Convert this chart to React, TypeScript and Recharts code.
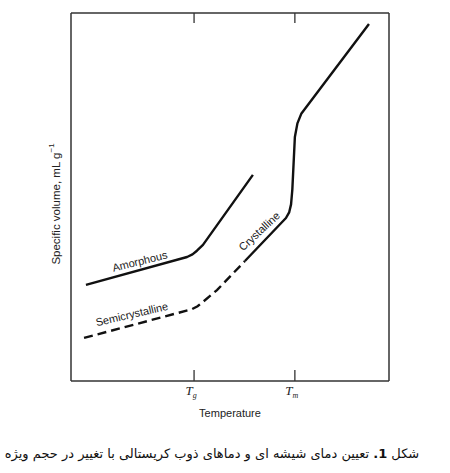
import { LineChart, Line, XAxis, YAxis, ReferenceDot } from 'recharts'

// temperature (arbitrary units, 0-100) and specific volume (arbitrary units, 0-100)
const amorphousT = [4.7, 36.5, 38.2, 39.6, 41.5, 57.2]
const amorphousV = [26.1, 33.7, 34.4, 35.4, 37.0, 56.0]

const semiT = [4.1, 38.0, 39.8, 41.5, 45.9, 54.7]
const semiV = [11.7, 19.5, 20.3, 21.5, 24.7, 32.6]

const crystT = [54.7, 67.6, 68.6, 69.2, 69.6, 70.4, 71.2, 72.4, 93.7]
const crystV = [32.6, 44.3, 45.8, 48.0, 52.0, 66.3, 70.0, 72.6, 97.0]

const xTicks = [38.7, 70.4]
const xTickSubs = ['g', 'm']

const curveLabels = [
  { text: 'Amorphous', t: 21.7, v: 32.3, angle: -14 },
  { text: 'Semicrystalline', t: 19.2, v: 17.9, angle: -13 },
  { text: 'Crystalline', t: 59.4, v: 40.5, angle: -43 },
]

const toPoints = (ts: number[], vs: number[]) => ts.map((t, i) => ({ t, v: vs[i] }))

const amorphous = toPoints(amorphousT, amorphousV)
const semi = toPoints(semiT, semiV)
const cryst = toPoints(crystT, crystV)

const AXIS = '#333'
const INK = '#111'
const SANS = '"Liberation Sans", Arial, sans-serif'

const W = 450
const H = 473
const MARGIN = { top: 12, right: 60, bottom: 62, left: 70 }
const X_AXIS_H = 30
const TOP_AXIS_H = 1
const PLOT_TOP = MARGIN.top + TOP_AXIS_H
const PLOT_LEFT = MARGIN.left + 1
const PLOT_W = W - MARGIN.left - MARGIN.right - 2

function BottomTick({ x, y, index }: any) {
  return (
    <g>
      <line x1={x} y1={y} x2={x} y2={y - 11} stroke={AXIS} strokeWidth={1.3} />
      <text
        x={x - 3}
        y={y + 14}
        textAnchor="middle"
        fontFamily='"Liberation Serif", serif'
        fontStyle="italic"
        fontSize={13}
        fill="#222"
      >
        T
        <tspan fontSize={8} dy={3}>
          {xTickSubs[index]}
        </tspan>
      </text>
    </g>
  )
}

function CurveLabel({ viewBox, caption, rot }: any) {
  const cx = viewBox.x
  const cy = viewBox.y
  return (
    <text
      x={cx}
      y={cy}
      textAnchor="middle"
      dominantBaseline="middle"
      transform={`rotate(${rot}, ${cx}, ${cy})`}
      fontFamily={SANS}
      fontSize={11}
      fill="#222"
    >
      {caption}
    </text>
  )
}

// y-axis title, plus the inward tick marks on the top frame edge
function YLabel() {
  return (
    <g>
      {xTicks.map((t) => {
        const x = PLOT_LEFT + (t / 100) * PLOT_W
        return (
          <line
            key={t}
            x1={x}
            y1={PLOT_TOP}
            x2={x}
            y2={PLOT_TOP + 10}
            stroke={AXIS}
            strokeWidth={1.3}
          />
        )
      })}
      <text
        x={57}
        y={204}
        textAnchor="middle"
        dominantBaseline="middle"
        transform="rotate(-90, 57, 204)"
        fontFamily={SANS}
        fontSize={11.5}
        fill="#222"
      >
        Specific volume, mL g
        <tspan fontSize={8} dy={-5}>
          −1
        </tspan>
      </text>
    </g>
  )
}

export default function App() {
  return (
    <div style={{ position: 'absolute', left: 0, top: 0, width: W, height: H, background: '#fff' }}>
      <LineChart width={W} height={H} margin={MARGIN}>
        <XAxis
          dataKey="t"
          type="number"
          domain={[0, 100]}
          ticks={xTicks}
          height={X_AXIS_H}
          tickSize={0}
          tickMargin={0}
          tickLine={false}
          axisLine={{ stroke: AXIS, strokeWidth: 1.5 }}
          tick={<BottomTick />}
          label={{
            value: 'Temperature',
            position: 'bottom',
            offset: -2,
            fontFamily: SANS,
            fontSize: 11,
            fill: '#222',
          }}
        />
        <XAxis
          xAxisId="top"
          dataKey="t"
          type="number"
          orientation="top"
          domain={[0, 100]}
          height={TOP_AXIS_H}
          tick={false}
          tickLine={false}
          axisLine={{ stroke: AXIS, strokeWidth: 1.5 }}
        />
        <YAxis
          type="number"
          domain={[0, 100]}
          width={1}
          tick={false}
          tickLine={false}
          axisLine={{ stroke: AXIS, strokeWidth: 1.5 }}
          label={<YLabel />}
        />
        <YAxis
          yAxisId="right"
          orientation="right"
          type="number"
          domain={[0, 100]}
          width={1}
          tick={false}
          tickLine={false}
          axisLine={{ stroke: AXIS, strokeWidth: 1.5 }}
        />
        <Line
          data={amorphous}
          dataKey="v"
          type="linear"
          stroke={INK}
          strokeWidth={2.4}
          strokeLinejoin="round"
          dot={false}
          isAnimationActive={false}
        />
        <Line
          data={semi}
          dataKey="v"
          type="linear"
          stroke={INK}
          strokeWidth={2.4}
          strokeDasharray="9 5"
          dot={false}
          isAnimationActive={false}
        />
        <Line
          xAxisId="top"
          yAxisId="right"
          data={cryst}
          dataKey="v"
          type="linear"
          stroke={INK}
          strokeWidth={2.4}
          strokeLinejoin="round"
          dot={false}
          isAnimationActive={false}
        />
        {curveLabels.map((l) => (
          <ReferenceDot
            key={l.text}
            x={l.t}
            y={l.v}
            r={0}
            fill="none"
            stroke="none"
            label={<CurveLabel caption={l.text} rot={l.angle} />}
          />
        ))}
      </LineChart>
      <div
        style={{
          position: 'absolute',
          left: -7,
          top: 446,
          width: 438,
          textAlign: 'center',
          direction: 'rtl',
          fontFamily: '"DejaVu Sans", serif',
          fontSize: 13,
          color: '#111',
        }}
      >
        شکل <b>1.</b> تعیین دمای شیشه ای و دماهای ذوب کریستالی با تغییر در حجم ویژه
      </div>
    </div>
  )
}
